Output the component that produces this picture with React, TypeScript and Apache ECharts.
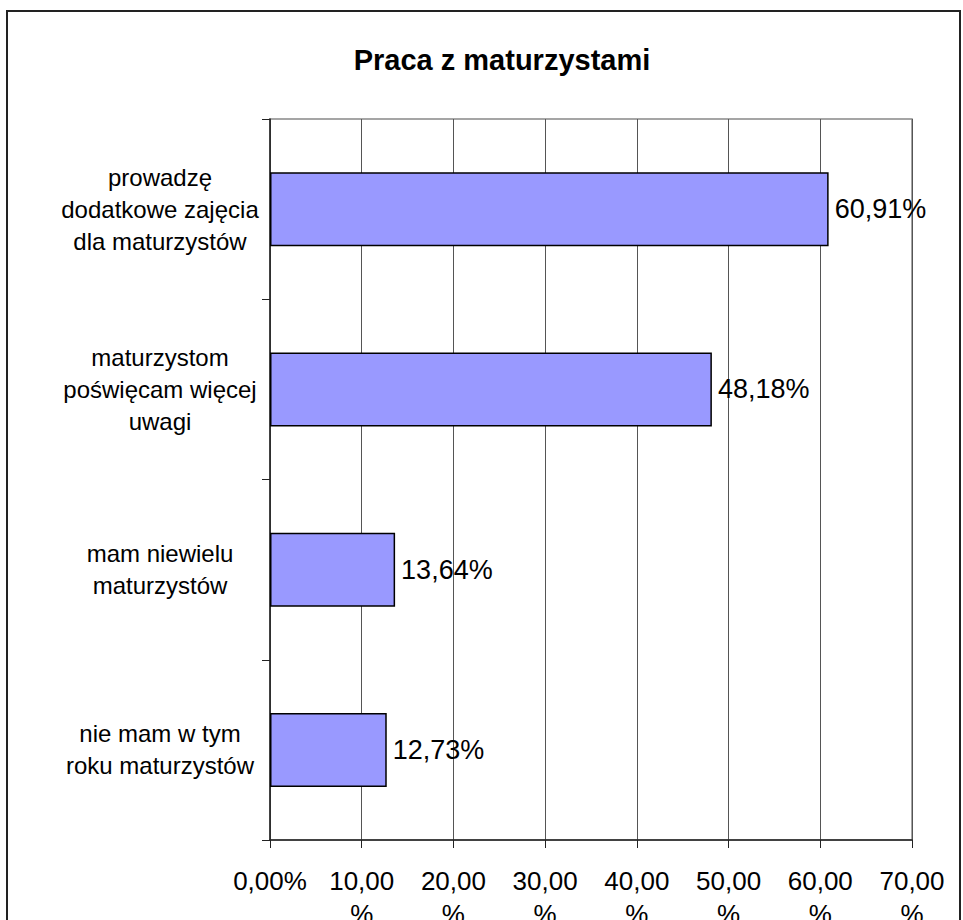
import React, { useEffect, useRef } from "react";
import * as echarts from "echarts";

const categories = [
  "prowadzę\ndodatkowe zajęcia\ndla maturzystów",
  "maturzystom\npoświęcam więcej\nuwagi",
  "mam niewielu\nmaturzystów",
  "nie mam w tym\nroku maturzystów",
];
const values = [60.91, 48.18, 13.64, 12.73];
const titleText = "Praca z maturzystami";
const axisMin = 0;
const axisMax = 70;
const axisStep = 10;

const FONT = "'Liberation Sans', Arial, sans-serif";

function fmtPct(v: number): string {
  return v.toFixed(2).replace(".", ",");
}

export default function App() {
  const ref = useRef<HTMLDivElement>(null);
  useEffect(() => {
    if (!ref.current) return;
    document.body.style.margin = "0";
    const chart = echarts.init(ref.current, undefined, { renderer: "svg" });
    chart.setOption({
      animation: false,
      backgroundColor: "#ffffff",
      title: {
        text: titleText,
        left: 497,
        top: 40,
        textAlign: "center",
        textStyle: {
          fontFamily: FONT,
          fontSize: 29,
          fontWeight: "bold",
          color: "#000",
        },
      },
      graphic: [
        {
          type: "rect",
          shape: { x: 7, y: 11, width: 953, height: 1000 },
          style: { fill: "none", stroke: "#222", lineWidth: 2 },
          silent: true,
        },
      ],
      grid: {
        left: 270,
        top: 119,
        width: 642,
        height: 721,
        show: true,
        borderColor: "#888",
        borderWidth: 1.5,
        containLabel: false,
        outerBoundsMode: "none",
      },
      xAxis: {
        type: "value",
        min: axisMin,
        max: axisMax,
        interval: axisStep,
        axisLine: { show: true, lineStyle: { color: "#222", width: 1.5 } },
        axisTick: { show: true, length: 8, lineStyle: { color: "#222" } },
        splitLine: { show: true, lineStyle: { color: "#555", width: 1 } },
        axisLabel: {
          margin: 24,
          fontFamily: FONT,
          fontSize: 26,
          lineHeight: 33,
          color: "#000",
          formatter: (v: number) =>
            v === 0 ? fmtPct(v) + "%" : fmtPct(v) + "\n%",
        },
      },
      yAxis: {
        type: "category",
        data: categories,
        inverse: true,
        axisLine: { show: true, lineStyle: { color: "#222", width: 1.5 } },
        axisTick: { show: true, length: 8, lineStyle: { color: "#222" } },
        axisLabel: {
          margin: 110,
          align: "center",
          fontFamily: FONT,
          fontSize: 24,
          lineHeight: 32,
          color: "#000",
        },
      },
      series: [
        {
          type: "bar",
          data: values,
          barWidth: 74,
          itemStyle: {
            color: "#9999FF",
            borderColor: "#000",
            borderWidth: 1.5,
          },
          label: {
            show: true,
            position: "right",
            distance: 6,
            fontFamily: FONT,
            fontSize: 27,
            color: "#000",
            formatter: (p: any) => fmtPct(p.value) + "%",
          },
        },
      ],
    });
    return () => chart.dispose();
  }, []);
  return (
    <div
      ref={ref}
      style={{ position: "absolute", left: 0, top: 0, width: 963, height: 920 }}
    />
  );
}
